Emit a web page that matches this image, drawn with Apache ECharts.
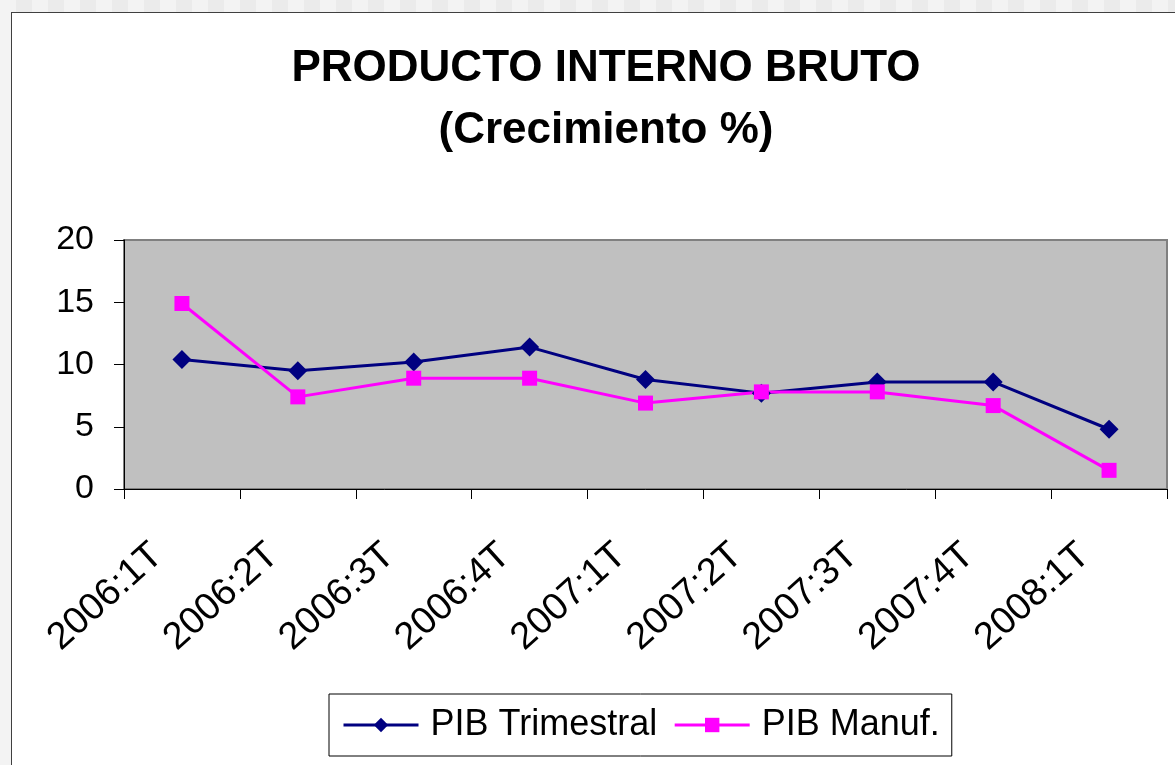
<!DOCTYPE html>
<html>
<head>
<meta charset="utf-8">
<script src="https://cdn.jsdelivr.net/npm/echarts@6/dist/echarts.min.js"></script>
<style>
  html, body { margin: 0; padding: 0; width: 1175px; height: 765px; overflow: hidden;
    background: repeating-linear-gradient(90deg, #f3f3f3 0 16px, #ebebeb 16px 32px); }
  #frame { position: absolute; left: 11px; top: 12px; width: 1200px; height: 800px;
    background: #fff; border: 1px solid #404040; }
  #chart { position: absolute; left: 0; top: 0; width: 1175px; height: 765px; }
</style>
</head>
<body>
<div id="frame"></div>
<div id="chart"></div>
<script>
// trimestres
var categories = ["2006:1T", "2006:2T", "2006:3T", "2006:4T", "2007:1T", "2007:2T", "2007:3T", "2007:4T", "2008:1T"];
var pibTrimestral = [10.4, 9.5, 10.2, 11.4, 8.8, 7.7, 8.6, 8.6, 4.8];
var pibManuf = [14.9, 7.4, 8.9, 8.9, 6.9, 7.8, 7.8, 6.7, 1.5];
var yTicks = [0, 5, 10, 15, 20];

var font = "'Liberation Sans', Arial, sans-serif";
var chart = echarts.init(document.getElementById("chart"));

var option = {
    animation: false,
    title: {
        text: "PRODUCTO INTERNO BRUTO\n(Crecimiento %)",
        left: 601,
        top: 33,
        textAlign: "center",
        textStyle: {fontFamily: font, fontSize: 44, fontWeight: "bold", color: "#000", lineHeight: 62}
    },
    legend: {
        data: ["PIB Trimestral", "PIB Manuf."],
        left: 329,
        top: 694,
        orient: "horizontal",
        backgroundColor: "#fff",
        borderColor: "#000",
        borderWidth: 1,
        padding: [13, 12, 13, 13],
        itemWidth: 75,
        itemHeight: 18,
        itemGap: 16,
        lineStyle: {width: 3},
        textStyle: {fontFamily: font, fontSize: 36, color: "#000", padding: [0, 0, 0, 7]}
    },
    grid: {
        left: 124, top: 240, right: 8, bottom: 276,
        show: true, backgroundColor: "#c0c0c0", borderColor: "#808080", borderWidth: 2
    },
    xAxis: {
        type: "category",
        data: categories,
        boundaryGap: true,
        axisLine: {lineStyle: {color: "#000", width: 1}},
        axisTick: {show: true, length: 10, lineStyle: {color: "#000"}},
        axisLabel: {
            rotate: 42, margin: 39, interval: 0,
            fontFamily: font, fontSize: 38, color: "#000",
            padding: [0, 33, 0, 0]
        },
        splitLine: {show: false}
    },
    yAxis: {
        type: "value",
        min: yTicks[0],
        max: yTicks[yTicks.length - 1],
        interval: 5,
        axisLine: {show: true, lineStyle: {color: "#000", width: 1}},
        axisTick: {show: true, length: 10, lineStyle: {color: "#000"}},
        axisLabel: {margin: 30, fontFamily: font, fontSize: 34, color: "#000"},
        splitLine: {show: false}
    },
    series: [{
        name: "PIB Trimestral",
        type: "line",
        data: pibTrimestral,
        symbol: "diamond",
        symbolSize: 19,
        itemStyle: {color: "#000080"},
        lineStyle: {color: "#000080", width: 3}
    }, {
        name: "PIB Manuf.",
        type: "line",
        data: pibManuf,
        symbol: "rect",
        symbolSize: 15,
        itemStyle: {color: "#ff00ff"},
        lineStyle: {color: "#ff00ff", width: 3}
    }]
};
chart.setOption(option);
</script>
</body>
</html>
